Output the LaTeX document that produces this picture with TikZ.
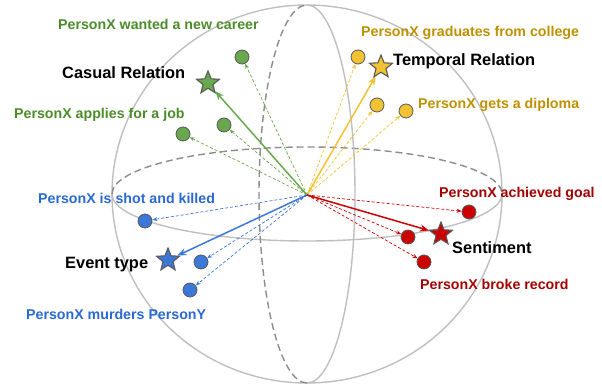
\documentclass[tikz,border=0pt]{standalone}
\usepackage{fontspec}
\setmainfont{Liberation Sans}
\usetikzlibrary{shapes.geometric, arrows.meta}

\definecolor{grnfill}{HTML}{6AA84F}
\definecolor{grntext}{HTML}{4C8C2B}
\definecolor{ylwfill}{HTML}{F1C232}
\definecolor{ylwtext}{HTML}{BF9000}
\definecolor{blufill}{HTML}{3C78D8}
\definecolor{blutext}{HTML}{2A68D2}
\definecolor{redfill}{HTML}{CC0000}
\definecolor{redtext}{HTML}{A50000}
\definecolor{rim}{HTML}{595959}

\begin{document}
\begin{tikzpicture}[x=1pt, y=-1pt,
    sphere/.style={draw=black!25, line width=1.4pt},
    backline/.style={draw=black!45, line width=1.4pt, dash pattern=on 7pt off 4pt},
    dot/.style={circle, draw=rim, line width=0.8pt, fill=#1, minimum size=14pt, inner sep=0pt},
    mainstar/.style={star, star points=5, star point ratio=2.3, draw=rim, line width=1.1pt, fill=#1, minimum size=24pt, inner sep=0pt},
    mainarrow/.style={draw=#1, line width=1.5pt, -{Stealth[length=9pt, width=7pt]}},
    sidearrow/.style={draw=#1, line width=0.7pt, dash pattern=on 3pt off 2pt, -{Stealth[length=5pt, width=4pt]}},
    tag/.style={anchor=west, inner sep=0pt, font=\fontsize{14.2}{16}\selectfont\bfseries, text=#1},
    title/.style={anchor=west, inner sep=0pt, font=\fontsize{16.4}{18}\selectfont\bfseries}]
    \useasboundingbox (0,0) rectangle (602,387);

    \draw[sphere] (307,194) ellipse [x radius=195, y radius=189];
    \draw[sphere] (502,194) arc [start angle=0, end angle=180, x radius=195, y radius=47];
    \draw[backline] (112,194) arc [start angle=180, end angle=360, x radius=195, y radius=47];
    \draw[sphere] (307,5) arc [start angle=-90, end angle=90, x radius=48, y radius=189];
    \draw[backline] (307,383) arc [start angle=90, end angle=270, x radius=48, y radius=189];

    \coordinate (o) at (307,195);

    \node[mainstar=grnfill] (casual) at (208,83) {};
    \node[dot=grnfill] (g1) at (242,57) {};
    \node[dot=grnfill] (g2) at (224,125) {};
    \node[dot=grnfill] (g3) at (183,134) {};

    \node[mainstar=ylwfill] (temporal) at (381,67) {};
    \node[dot=ylwfill] (y1) at (358,57) {};
    \node[dot=ylwfill] (y2) at (377,105) {};
    \node[dot=ylwfill] (y3) at (406,111) {};

    \node[mainstar=blufill] (event) at (168,260) {};
    \node[dot=blufill] (b1) at (145,221) {};
    \node[dot=blufill] (b2) at (201,262) {};
    \node[dot=blufill] (b3) at (190,290) {};

    \node[mainstar=redfill] (senti) at (441,234) {};
    \node[dot=redfill] (r1) at (469,212) {};
    \node[dot=redfill] (r2) at (408,237) {};
    \node[dot=redfill] (r3) at (424,262) {};

    \draw[sidearrow=grnfill] (o) -- (g1);
    \draw[sidearrow=grnfill] (o) -- (g2);
    \draw[sidearrow=grnfill] (o) -- (g3);
    \draw[mainarrow=grnfill] (o) -- (casual);
    \draw[sidearrow=ylwfill] (o) -- (y1);
    \draw[sidearrow=ylwfill] (o) -- (y2);
    \draw[sidearrow=ylwfill] (o) -- (y3);
    \draw[mainarrow=ylwfill] (o) -- (temporal);
    \draw[sidearrow=blufill] (o) -- (b1);
    \draw[sidearrow=blufill] (o) -- (b2);
    \draw[sidearrow=blufill] (o) -- (b3);
    \draw[mainarrow=blufill] (o) -- (event);
    \draw[sidearrow=redfill] (o) -- (r1);
    \draw[sidearrow=redfill] (o) -- (r2);
    \draw[sidearrow=redfill] (o) -- (r3);
    \draw[mainarrow=redfill] (o) -- (senti);

    \node[tag=grntext] (g1txt) at (58,24) {PersonX wanted a new career};
    \node[title] (casualtxt) at (62,73) {Casual Relation};
    \node[tag=grntext] (g3txt) at (14,115) {PersonX applies for a job};

    \node[tag=ylwtext] (y1txt) at (361,33) {PersonX graduates from college};
    \node[title] (temporaltxt) at (393,61) {Temporal Relation};
    \node[tag=ylwtext] (y3txt) at (418,105) {PersonX gets a diploma};

    \node[tag=blutext] (b1txt) at (38,198) {PersonX is shot and killed};
    \node[title] (eventtxt) at (65,265) {Event type};
    \node[tag=blutext] (b3txt) at (26,314) {PersonX murders PersonY};

    \node[tag=redtext] (r1txt) at (439,194) {PersonX achieved goal};
    \node[title] (sentitxt) at (452,248) {Sentiment};
    \node[tag=redtext] (r3txt) at (420,284) {PersonX broke record};
\end{tikzpicture}
\end{document}
